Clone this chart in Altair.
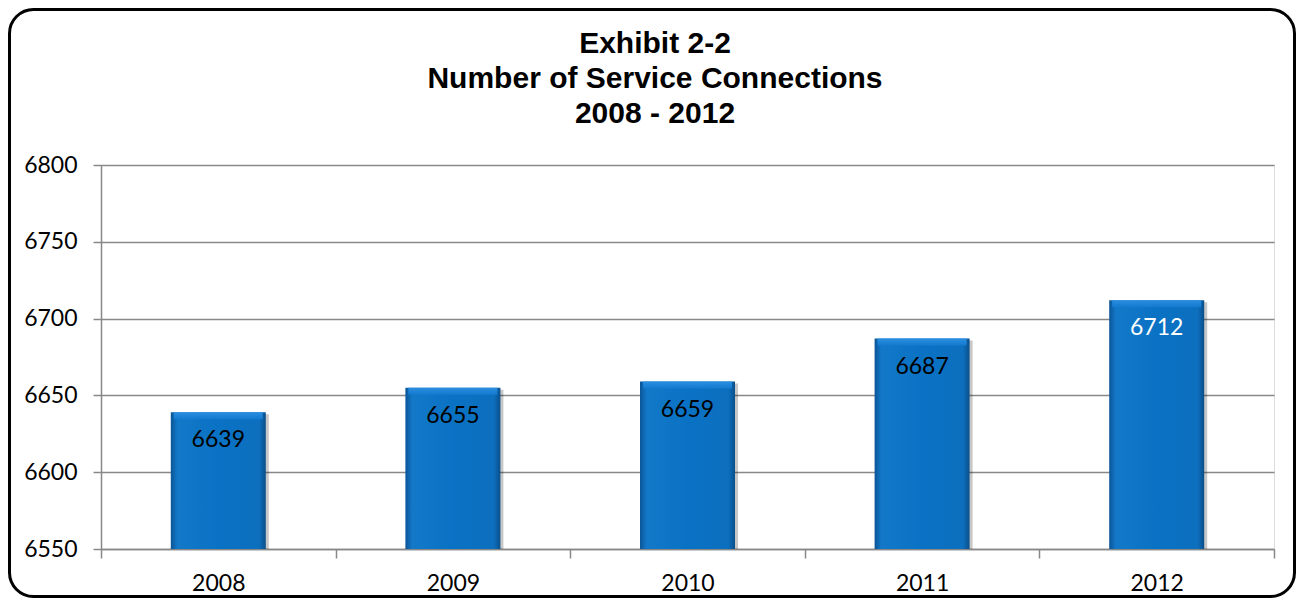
import altair as alt
import pandas as pd

years = ["2008", "2009", "2010", "2011", "2012"]
connections = [6639, 6655, 6659, 6687, 6712]
title_lines = ["Exhibit 2-2", "Number of Service Connections", "2008 - 2012"]
y_ticks = [6550, 6600, 6650, 6700, 6750, 6800]

df = pd.DataFrame({"year": years, "value": connections})

W, H = 1173, 384
FONT = "Lato"

x = alt.X("year:N", sort=years, title=None,
          scale=alt.Scale(paddingInner=0, paddingOuter=0),
          axis=alt.Axis(labelAngle=0, tickBand="extent", tickSize=9, tickColor="#888888",
                        tickWidth=1.5, domainColor="#888888", domainWidth=1.5,
                        labelFont=FONT, labelFontSize=23, labelColor="black",
                        labelPadding=14, grid=False))
y = alt.Y("value:Q", title=None,
          scale=alt.Scale(domain=[6550, 6800], nice=False, zero=False),
          axis=alt.Axis(values=y_ticks, format="d", tickSize=8, tickColor="#888888",
                        tickWidth=1.5, domainColor="#888888", domainWidth=1.5,
                        gridColor="#888888", gridWidth=1.5,
                        labelFont=FONT, labelFontSize=23, labelColor="black",
                        labelPadding=16))

base = alt.Chart(df)

shadow = base.mark_bar(size=95, color="#000000", opacity=0.22, xOffset=3, yOffset=2).encode(
    x=x, y=y, y2=alt.datum(6550))

body_grad = alt.Gradient(
    gradient="linear", x1=0, x2=1, y1=0, y2=0,
    stops=[alt.GradientStop(offset=0, color="#0a5596"),
           alt.GradientStop(offset=0.07, color="#1378c8"),
           alt.GradientStop(offset=0.5, color="#0a72c4"),
           alt.GradientStop(offset=0.93, color="#0d6fbe"),
           alt.GradientStop(offset=1, color="#0a4f8a")])
bars = base.mark_bar(size=95, color=body_grad).encode(x=x, y=y, y2=alt.datum(6550))

top_grad = alt.Gradient(
    gradient="linear", x1=0, x2=0, y1=0, y2=1,
    stops=[alt.GradientStop(offset=0, color="#2b8ee0"),
           alt.GradientStop(offset=1, color="#137ace")])
bevel = base.mark_bar(size=89, color=top_grad, y2Offset=7).encode(
    x=x, y=y, y2="value:Q")

labels = base.mark_text(font=FONT, fontSize=23, baseline="middle", dy=28).encode(
    x=x, y=y, text="value:Q",
    color=alt.condition(alt.datum.value > 6700, alt.value("white"), alt.value("black")))

t_layers = []
for i, ln in enumerate(title_lines):
    t_layers.append(
        alt.Chart(pd.DataFrame({"line": [ln]})).mark_text(
            font="Liberation Sans", fontWeight="bold", fontSize=30,
            baseline="alphabetic", align="center", color="black").encode(
            x=alt.value(554), y=alt.value(-112 + 35 * i), text="line:N"))

border = alt.Chart(pd.DataFrame({"b": [0]})).mark_rect(
    fill="transparent", stroke="black", strokeWidth=3, cornerRadius=24).encode(
    x=alt.value(-91.5), x2=alt.value(1193.5), y=alt.value(-155.5), y2=alt.value(431.5))

chart = alt.layer(shadow, bars, bevel, labels, *t_layers, border).properties(
    width=W, height=H,
    autosize=alt.AutoSizeParams(type="none"),
    padding={"left": 93, "top": 157, "right": 22, "bottom": 49},
).configure_view(stroke=None).configure(background="white")

chart.save("out.html", embed_options={"renderer": "svg", "actions": False})
